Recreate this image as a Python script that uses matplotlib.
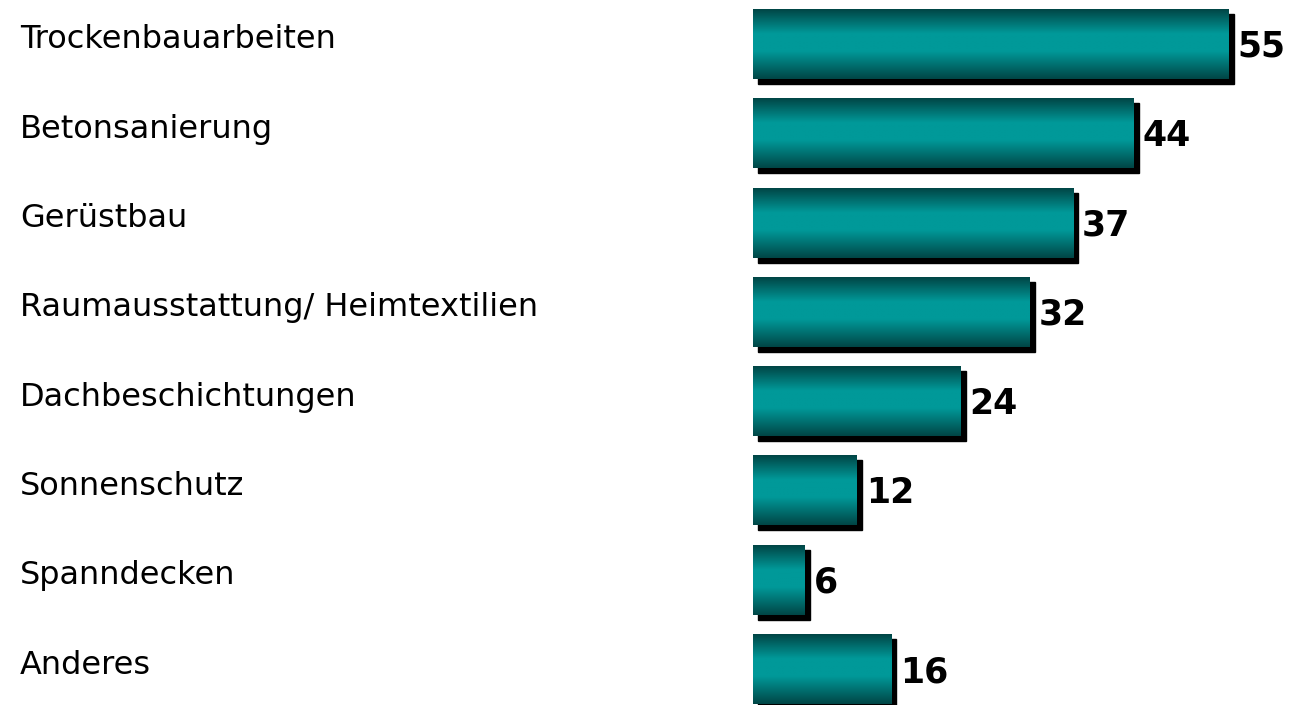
import numpy as np
from matplotlib import pyplot as plt
from matplotlib.colors import LinearSegmentedColormap
from matplotlib.patches import Rectangle

categories = ['Trockenbauarbeiten', 'Betonsanierung', 'Gerüstbau',
              'Raumausstattung/ Heimtextilien', 'Dachbeschichtungen',
              'Sonnenschutz', 'Spanndecken', 'Anderes']
values = [55, 44, 37, 32, 24, 12, 6, 16]

W, H = 1290, 705
fig = plt.figure(figsize = (W / 100, H / 100), dpi = 100)

# axes start where the bars start; pixels per unit
x0_px, px_x, px_y = 753, 8.65, 89.3
ax = fig.add_axes([x0_px / W, 0, 1 - x0_px / W, 1])
ax.axis('off')

cmap = LinearSegmentedColormap.from_list('teal', [(0, '#004545'), (0.35, '#009999'),
                                                   (0.6, '#009999'), (1, '#004545')])
grad = np.linspace(0, 1, 256).reshape(-1, 1)

h = 70 / px_y
dx, dy = 5 / px_x, 5 / px_y

for i, v in enumerate(values):
  ax.add_patch(Rectangle((dx, i - h / 2 + dy), v, h, color = 'black', zorder = 1))
  ax.imshow(grad, cmap = cmap, aspect = 'auto', interpolation = 'bilinear',
            extent = (0, v, i + h / 2, i - h / 2), zorder = 2)
  ax.text(v + dx + 4 / px_x, i + 3 / px_y, str(v), ha = 'left', va = 'center',
          fontsize = 25, fontweight = 'bold', color = 'black')
  fig.text(20 / W, 1 - (40 + i * px_y) / H, categories[i], ha = 'left', va = 'center',
           fontsize = 23, color = 'black')

ax.set_xlim(0, (W - x0_px) / px_x)
ax.set_ylim(7 + (H - 669) / px_y, -44 / px_y)

fig.savefig('out.png', dpi = 100, facecolor = 'white')
